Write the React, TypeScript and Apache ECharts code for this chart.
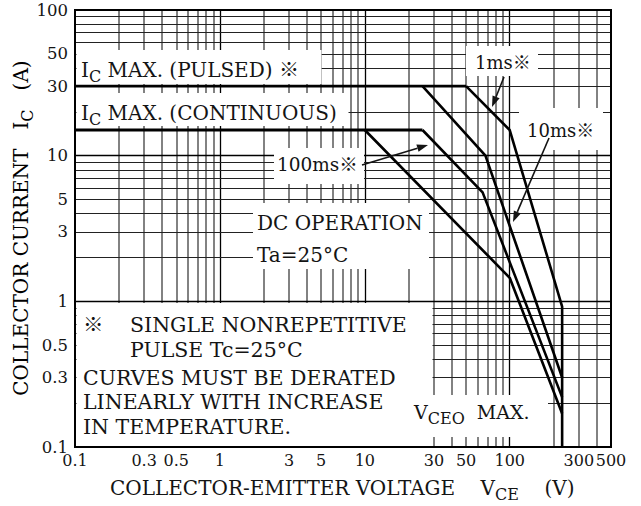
import React, { useEffect, useRef } from 'react';
import * as echarts from 'echarts';

// ---- data ----
const X_TICKS = [0.1, 0.3, 0.5, 1, 3, 5, 10, 30, 50, 100, 300, 500];
const Y_TICKS = [0.1, 0.3, 0.5, 1, 3, 5, 10, 30, 50, 100];
const X_DECADES = [0.1, 1, 10, 100];
const MANTISSAS = [1, 2, 3, 4, 5, 6, 7, 8, 9];

const PULSED_MAX = [[0.1, 30], [50, 30]];
const CONT_MAX = [[0.1, 15], [25, 15]];
const CURVE_1MS = [[50, 30], [100, 15], [230, 0.92], [230, 0.1]];
const CURVE_10MS = [[25, 30], [68, 10], [230, 0.3]];
const CURVE_100MS = [[25, 15], [65, 5.6], [230, 0.22]];
const CURVE_DC = [[10, 15], [100, 1.45], [230, 0.17]];

const X_MIN = 0.1, X_MAX = 500, Y_MIN = 0.1, Y_MAX = 100;

const FONT = '"DejaVu Serif", "Noto Sans CJK JP", serif';
const INK = '#141414';

function gridValues(decades: number[], lo: number, hi: number) {
  const out: { v: number; major: boolean }[] = [];
  decades.forEach((d) => {
    MANTISSAS.forEach((m) => {
      const v = +(d * m).toPrecision(6);
      if (v > lo && v < hi) out.push({ v, major: m === 1 });
    });
  });
  return out;
}

function richStyles(size: number) {
  return {
    n: { fontSize: size, fontFamily: FONT, color: INK, lineHeight: size + 9, verticalAlign: 'middle' },
    s: { fontSize: Math.round(size * 0.82), fontFamily: FONT, color: INK, verticalAlign: 'bottom' },
  };
}

function txt(x: number, y: number, text: string, size = 20, extra: any = {}) {
  return {
    type: 'text',
    x,
    y,
    z: 20,
    style: {
      text,
      rich: richStyles(size),
      font: `${size}px ${FONT}`,
      fill: INK,
      verticalAlign: 'middle',
      align: 'left',
      ...extra,
    },
  };
}

function mask(x: number, y: number, w: number, h: number) {
  return { type: 'rect', z: 3, shape: { x, y, width: w, height: h }, style: { fill: '#fff' } };
}

function arrow(x1: number, y1: number, x2: number, y2: number) {
  const dx = x2 - x1, dy = y2 - y1;
  const len = Math.sqrt(dx * dx + dy * dy);
  const ux = dx / len, uy = dy / len;
  const L = 11, W = 3.8;
  const bx = x2 - ux * L, by = y2 - uy * L;
  return [
    { type: 'line', z: 20, shape: { x1, y1, x2: bx, y2: by }, style: { stroke: INK, lineWidth: 1.6 } },
    {
      type: 'polygon',
      z: 20,
      shape: { points: [[x2, y2], [bx - uy * W, by + ux * W], [bx + uy * W, by - ux * W]] },
      style: { fill: INK },
    },
  ];
}

export default function App() {
  const ref = useRef<HTMLDivElement>(null);
  useEffect(() => {
    const chart = echarts.init(ref.current!, null, { renderer: 'svg' });

    const xGrid = gridValues(X_DECADES, X_MIN, X_MAX).map((g) => ({
      xAxis: g.v,
      lineStyle: g.major
        ? { color: '#000', width: 1.3, type: 'solid' }
        : { color: '#595959', width: 1.5, type: 'solid' },
    }));
    const yGrid = gridValues(X_DECADES, Y_MIN, Y_MAX).map((g) => ({
      yAxis: g.v,
      lineStyle: g.major
        ? { color: '#000', width: 1.3, type: 'solid' }
        : { color: '#222', width: 1, type: 'solid' },
    }));

    const curve = (name: string, data: number[][], width = 2.6) => ({
      name,
      type: 'line',
      data,
      symbol: 'none',
      z: 10,
      clip: false,
      lineStyle: { color: '#000', width },
    });

    const gridSeries = (data: any[]) => ({
      type: 'line',
      data: [],
      z: 1,
      markLine: { z: 1, silent: true, symbol: 'none', label: { show: false }, animation: false, data },
    });

    const option: any = {
      animation: false,
      backgroundColor: '#fff',
      grid: { left: 75, top: 10, width: 536, height: 437, show: true, borderColor: '#000', borderWidth: 2, z: 12 },
      xAxis: {
        type: 'log',
        logBase: 10,
        min: X_MIN,
        max: X_MAX,
        z: 12,
        axisLine: { show: true, lineStyle: { color: '#000', width: 2 } },
        axisTick: { show: false },
        splitLine: { show: false },
        axisLabel: {
          customValues: X_TICKS,
          margin: 5,
          fontFamily: FONT,
          fontSize: 16,
          color: INK,
          formatter: (v: number) => String(+v.toPrecision(6)),
        },
      },
      yAxis: {
        type: 'log',
        logBase: 10,
        min: Y_MIN,
        max: Y_MAX,
        z: 12,
        axisLine: { show: true, lineStyle: { color: '#000', width: 2 } },
        axisTick: { show: false },
        splitLine: { show: false },
        axisLabel: {
          customValues: Y_TICKS,
          margin: 7,
          fontFamily: FONT,
          fontSize: 16.5,
          color: INK,
          formatter: (v: number) => String(+v.toPrecision(6)),
        },
      },
      series: [
        gridSeries(xGrid),
        gridSeries(yGrid),
        curve('IC max pulsed', PULSED_MAX, 2.8),
        curve('IC max continuous', CONT_MAX, 2.8),
        curve('1ms', CURVE_1MS),
        curve('10ms', CURVE_10MS),
        curve('100ms', CURVE_100MS),
        curve('DC', CURVE_DC),
      ],
      graphic: {
        elements: [
          // masks behind labels
          mask(76.5, 50, 245, 34),
          mask(76.5, 93, 272, 33),
          mask(466, 46, 72, 30),
          mask(519, 108, 84, 42),
          mask(274, 148, 90, 36),
          mask(253, 203, 176, 66),
          mask(76.5, 303, 356, 143),
          mask(405, 395, 143, 42),
          // labels
          txt(81, 70, '{n|I}{s|C}{n| MAX. (PULSED) ※}', 20),
          txt(81, 113, '{n|I}{s|C}{n| MAX. (CONTINUOUS)}', 20),
          txt(475, 62, '{n|1ms※}', 18),
          txt(527, 130, '{n|10ms※}', 18),
          txt(277, 164, '{n|100ms※}', 18.5),
          txt(257, 223, '{n|DC OPERATION}', 20),
          txt(257, 255, '{n|Ta=25°C}', 20),
          txt(83, 325, '{n|※}', 20.5),
          txt(130, 325, '{n|SINGLE NONREPETITIVE}', 20.5),
          txt(130, 350, '{n|PULSE Tc=25°C}', 20.5),
          txt(83, 378, '{n|CURVES MUST BE DERATED}', 20.5),
          txt(83, 402, '{n|LINEARLY WITH INCREASE}', 20.5),
          txt(83, 427, '{n|IN TEMPERATURE.}', 20.5),
          txt(414, 412, '{n|V}{s|CEO}{n|  MAX.}', 19),
          txt(110, 488, '{n|COLLECTOR-EMITTER VOLTAGE    V}{s|CE}{n|    (V)}', 20),
          {
            type: 'text',
            x: 21,
            y: 228,
            z: 20,
            rotation: Math.PI / 2,
            style: {
              text: '{n|COLLECTOR CURRENT   I}{s|C}{n|   (A)}',
              rich: richStyles(20),
              align: 'center',
              verticalAlign: 'middle',
            },
          },
          ...arrow(504, 77, 492, 107),
          ...arrow(549, 138, 513, 222),
          ...arrow(362, 165, 428, 145),
        ],
      },
    };

    chart.setOption(option);
    return () => chart.dispose();
  }, []);

  return (
    <div
      ref={ref}
      style={{ position: 'fixed', left: 0, top: 0, width: 641, height: 506, background: '#fff' }}
    />
  );
}
